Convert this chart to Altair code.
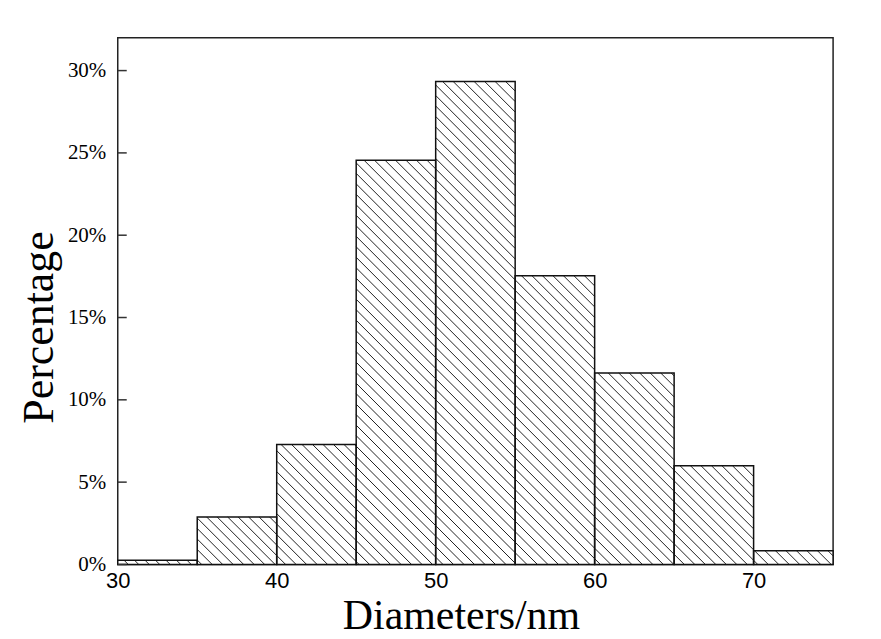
import altair as alt
import numpy as np
import pandas as pd

# ---- data ----
bin_start = [30, 35, 40, 45, 50, 55, 60, 65, 70]
bin_end = [35, 40, 45, 50, 55, 60, 65, 70, 75]
percentages = [0.0025, 0.0288, 0.0728, 0.2456, 0.2934, 0.1754, 0.1163, 0.0600, 0.0083]
x_ticks = [30, 40, 50, 60, 70]
y_ticks = [0.0, 0.05, 0.10, 0.15, 0.20, 0.25, 0.30]

X_DOMAIN = [30, 75]
Y_DOMAIN = [0, 0.32]
W, H = 717, 528

bars = pd.DataFrame({"start": bin_start, "end": bin_end, "pct": percentages})

# hatch lines (45 degrees in screen space), clipped to each bar
px_per_x = W / (X_DOMAIN[1] - X_DOMAIN[0])
px_per_y = H / (Y_DOMAIN[1] - Y_DOMAIN[0])
slope = px_per_x / px_per_y  # data-y per data-x for 45 deg on screen
spacing = 0.66
rows = []
for a, b, h in zip(bin_start, bin_end, percentages):
    Hu = h / slope
    k0 = int(np.ceil((a - X_DOMAIN[0]) / spacing))
    k1 = int(np.floor((b + Hu - X_DOMAIN[0]) / spacing))
    for k in range(k0, k1 + 1):
        c = X_DOMAIN[0] + k * spacing
        u_s = min(Hu, c - a)
        u_e = max(0.0, c - b)
        if u_s <= u_e:
            continue
        rows.append({"x": c - u_s, "y": u_s * slope, "x2": c - u_e, "y2": u_e * slope})
hatch = pd.DataFrame(rows)

xscale = alt.Scale(domain=X_DOMAIN, nice=False, zero=False)
yscale = alt.Scale(domain=Y_DOMAIN, nice=False)

x_axis = alt.Axis(values=x_ticks, ticks=False, domain=False, grid=False, labelFlush=False,
                  labelFont="Liberation Sans", labelFontSize=22, labelColor="#000",
                  labelPadding=6, title="Diameters/nm", titleFont="Liberation Serif",
                  titleFontSize=42, titleFontWeight="normal", titleColor="#000",
                  titleX=344, titleY=51, titleBaseline="middle", titleAlign="center")
y_axis = alt.Axis(values=y_ticks, format=".0%", ticks=False, domain=False, grid=False,
                  labelFont="Liberation Serif", labelFontSize=21, labelColor="#000",
                  labelPadding=12, title="Percentage", titleFont="Liberation Serif",
                  titleFontSize=44, titleFontWeight="normal", titleColor="#000",
                  titleX=-78, titleY=290, titleAngle=270, titleBaseline="middle",
                  titleAlign="center")

base_bars = alt.Chart(bars).mark_rect(fill="white", stroke=None).encode(
    x=alt.X("start:Q", scale=xscale, axis=x_axis),
    x2="end:Q",
    y=alt.Y("pct:Q", scale=yscale, axis=y_axis),
    y2=alt.datum(0),
)

hatch_layer = alt.Chart(hatch).mark_rule(color="#222", strokeWidth=1).encode(
    x=alt.X("x:Q", scale=xscale),
    x2="x2:Q",
    y=alt.Y("y:Q", scale=yscale),
    y2="y2:Q",
)

outline = alt.Chart(bars).mark_rect(fill=None, stroke="#111", strokeWidth=1.5).encode(
    x=alt.X("start:Q", scale=xscale),
    x2="end:Q",
    y=alt.Y("pct:Q", scale=yscale),
    y2=alt.datum(0),
)

ytick_df = pd.DataFrame({"v": y_ticks})
yticks_layer = alt.Chart(ytick_df).mark_rule(color="#333", strokeWidth=1.5).encode(
    y=alt.Y("v:Q", scale=yscale),
    x=alt.value(0),
    x2=alt.value(9),
)

chart = alt.layer(base_bars, hatch_layer, outline, yticks_layer).properties(
    width=W, height=H,
    autosize="none",
    background="white",
    padding={"left": 110, "top": 29, "right": 40, "bottom": 75},
).configure_view(stroke="#222", strokeWidth=1.5)

chart.save("out.html", embed_options={"renderer": "svg", "actions": False})
